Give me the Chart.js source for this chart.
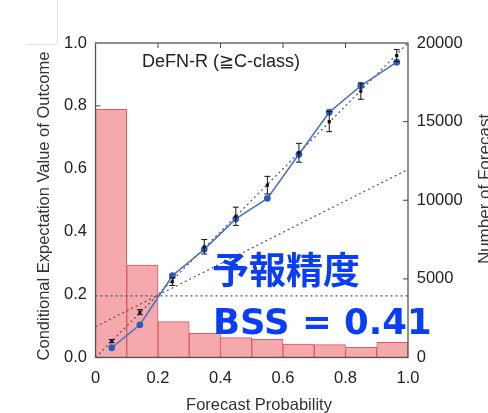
<!DOCTYPE html>
<html><head><meta charset="utf-8">
<script src="https://cdn.jsdelivr.net/npm/chart.js@4.4.1/dist/chart.umd.min.js"></script>
<style>html,body{margin:0;padding:0;background:#fff;}#wrap{width:488px;height:413px;position:relative;}</style>
</head><body><div id="wrap"><canvas id="c" width="488" height="413"></canvas></div>
<script>
// ---- data ----
const binCenters = [0.05,0.15,0.25,0.35,0.45,0.55,0.65,0.75,0.85,0.95];
const forecastCounts = [15780,5880,2280,1540,1260,1160,860,820,650,970];
const predProb = [0.052,0.142,0.246,0.348,0.449,0.55,0.651,0.748,0.849,0.964];
const modelValue = [0.031,0.104,0.26,0.344,0.441,0.506,0.646,0.78,0.864,0.939];
const obsValue = [0.052,0.144,0.241,0.352,0.449,0.548,0.651,0.75,0.847,0.96];
const obsErr = [0.005,0.008,0.012,0.023,0.029,0.028,0.03,0.032,0.026,0.019];
const climatology = 0.196;
const xTicks = [0,0.2,0.4,0.6,0.8,1.0];
const yTicks = [0,0.2,0.4,0.6,0.8,1.0];
const countTicks = [0,5000,10000,15000,20000];

const FONT = "'Liberation Sans', Arial, sans-serif";
const histData = binCenters.map((x,i)=>({x, y: forecastCounts[i]}));
const modelData = predProb.map((x,i)=>({x, y: modelValue[i]}));
const obsData = predProb.map((x,i)=>({x, y: obsValue[i]}));

const extras = {
  id: 'extras',
  beforeDatasetsDraw(chart){
    const {ctx, chartArea:a, scales} = chart;
    ctx.save();
    ctx.strokeStyle = '#444'; ctx.lineWidth = 1;
    const L = 5;
    xTicks.slice(1,-1).forEach(v=>{
      const px = scales.x.getPixelForValue(v);
      ctx.beginPath(); ctx.moveTo(px,a.top); ctx.lineTo(px,a.top+L); ctx.stroke();
      ctx.beginPath(); ctx.moveTo(px,a.bottom); ctx.lineTo(px,a.bottom-L); ctx.stroke();
    });
    yTicks.slice(1,-1).forEach(v=>{
      const py = scales.y.getPixelForValue(v);
      ctx.beginPath(); ctx.moveTo(a.left,py); ctx.lineTo(a.left+L,py); ctx.stroke();
    });
    countTicks.slice(1,-1).forEach(v=>{
      const py = scales.y2.getPixelForValue(v);
      ctx.beginPath(); ctx.moveTo(a.right,py); ctx.lineTo(a.right-L,py); ctx.stroke();
    });
    ctx.restore();
  },
  afterDatasetsDraw(chart){
    const {ctx, chartArea:a, scales} = chart;
    ctx.save();
    // error bars
    ctx.strokeStyle = '#111'; ctx.lineWidth = 1;
    predProb.forEach((x,i)=>{
      const px = scales.x.getPixelForValue(x);
      const y1 = scales.y.getPixelForValue(obsValue[i]-obsErr[i]);
      const y2 = scales.y.getPixelForValue(obsValue[i]+obsErr[i]);
      ctx.beginPath(); ctx.moveTo(px,y1); ctx.lineTo(px,y2);
      ctx.moveTo(px-3,y1); ctx.lineTo(px+3,y1);
      ctx.moveTo(px-3,y2); ctx.lineTo(px+3,y2); ctx.stroke();
    });
    // frame
    ctx.strokeStyle = '#555'; ctx.lineWidth = 1.3;
    ctx.strokeRect(a.left, a.top, a.right-a.left, a.bottom-a.top);
    ctx.restore();
  },
  afterDraw(chart){
    const {ctx, chartArea:a} = chart;
    ctx.save();
    // faint artifact box
    ctx.strokeStyle = '#e2e2e2'; ctx.lineWidth = 1;
    ctx.beginPath(); ctx.moveTo(57.5,0); ctx.lineTo(57.5,44.5); ctx.lineTo(27,44.5); ctx.stroke();
    ctx.fillStyle = '#222';
    ctx.font = "18px " + FONT;
    ctx.textAlign = 'center'; ctx.textBaseline = 'middle';
    ctx.fillText('DeFN-R (\u2267C-class)', 221, 62);
    // axis titles
    ctx.font = "16.5px " + FONT;
    ctx.fillStyle = '#333';
    ctx.fillText('Forecast Probability', 259, 405);
    ctx.save(); ctx.translate(44, 206); ctx.rotate(-Math.PI/2);
    ctx.fillText('Conditional Expectation Value of Outcome', 0, 0); ctx.restore();
    ctx.save(); ctx.translate(490, 189); ctx.rotate(-Math.PI/2);
    ctx.textBaseline = 'alphabetic';
    ctx.font = "17px " + FONT;
    ctx.fillText('Number of Forecast', 0, 0); ctx.restore();
    // blue annotations
    ctx.fillStyle = '#0a3ef5';
    ctx.textAlign = 'left';
    ctx.font = "bold 37px 'Noto Sans CJK JP', sans-serif";
    ctx.fillText('予報精度', 212, 270);
    ctx.font = "bold 35.5px 'DejaVu Sans', sans-serif";
    ctx.fillText('BSS = 0.41', 213, 325);
    ctx.restore();
  }
};

new Chart(document.getElementById('c'), {
  type: 'scatter',
  data: { datasets: [
    { type:'bar', data: histData, yAxisID:'y2', backgroundColor:'#f5a9ac', borderColor:'#e05a5e', borderWidth:1,
      borderSkipped:false, barPercentage:1, categoryPercentage:1, order:10 },
    { type:'line', data:[{x:0,y:0},{x:1,y:1}], borderColor:'#555', borderWidth:1.2, borderDash:[2,3], pointRadius:0, order:5 },
    { type:'line', data:[{x:0,y:climatology},{x:1,y:climatology}], borderColor:'#555', borderWidth:1.2, borderDash:[2,3], pointRadius:0, order:5 },
    { type:'line', data:[{x:0,y:climatology/2},{x:1,y:(1+climatology)/2}], borderColor:'#555', borderWidth:1.2, borderDash:[2,3], pointRadius:0, order:5 },
    { type:'line', data: modelData, borderColor:'#4a73c2', borderWidth:1.6, pointRadius:2.6, pointBackgroundColor:'#2d5bbd', pointBorderColor:'#2d5bbd', order:2 },
    { type:'scatter', data: obsData, pointStyle:'rect', pointRadius:2.2, backgroundColor:'#111', borderColor:'#111', borderWidth:0, order:1 }
  ]},
  options: {
    responsive:false, animation:false, devicePixelRatio:1,
    layout:{ padding:{ top:43, left:0, right:0, bottom:0 } },
    plugins:{ legend:{display:false}, tooltip:{enabled:false} },
    scales:{
      x:{ type:'linear', min:0, max:1, position:'bottom', offset:false,
          afterFit(s){ s.height = 55.5; },
          afterBuildTicks(s){ s.ticks = xTicks.map(v=>({value:v})); },
          grid:{ display:false, drawTicks:false, offset:false }, border:{display:false},
          ticks:{ padding:11, color:'#222', font:{family:FONT, size:16.5}, callback:v=> v===0 ? '0' : v.toFixed(1), maxRotation:0 } },
      y:{ type:'linear', min:0, max:1, position:'left',
          afterFit(s){ s.width = 95.5; },
          afterBuildTicks(s){ s.ticks = yTicks.map(v=>({value:v})); },
          grid:{ display:false, drawTicks:false }, border:{display:false},
          ticks:{ padding:8.5, color:'#222', font:{family:FONT, size:16.5}, callback:v=> v.toFixed(1) } },
      y2:{ type:'linear', min:0, max:20000, position:'right',
          afterFit(s){ s.width = 80; },
          afterBuildTicks(s){ s.ticks = countTicks.map(v=>({value:v})); },
          grid:{ display:false, drawTicks:false }, border:{display:false},
          ticks:{ padding:8.7, color:'#222', font:{family:FONT, size:16.5}, callback:v=> String(v) } }
    }
  },
  plugins:[extras]
});
</script></body></html>
